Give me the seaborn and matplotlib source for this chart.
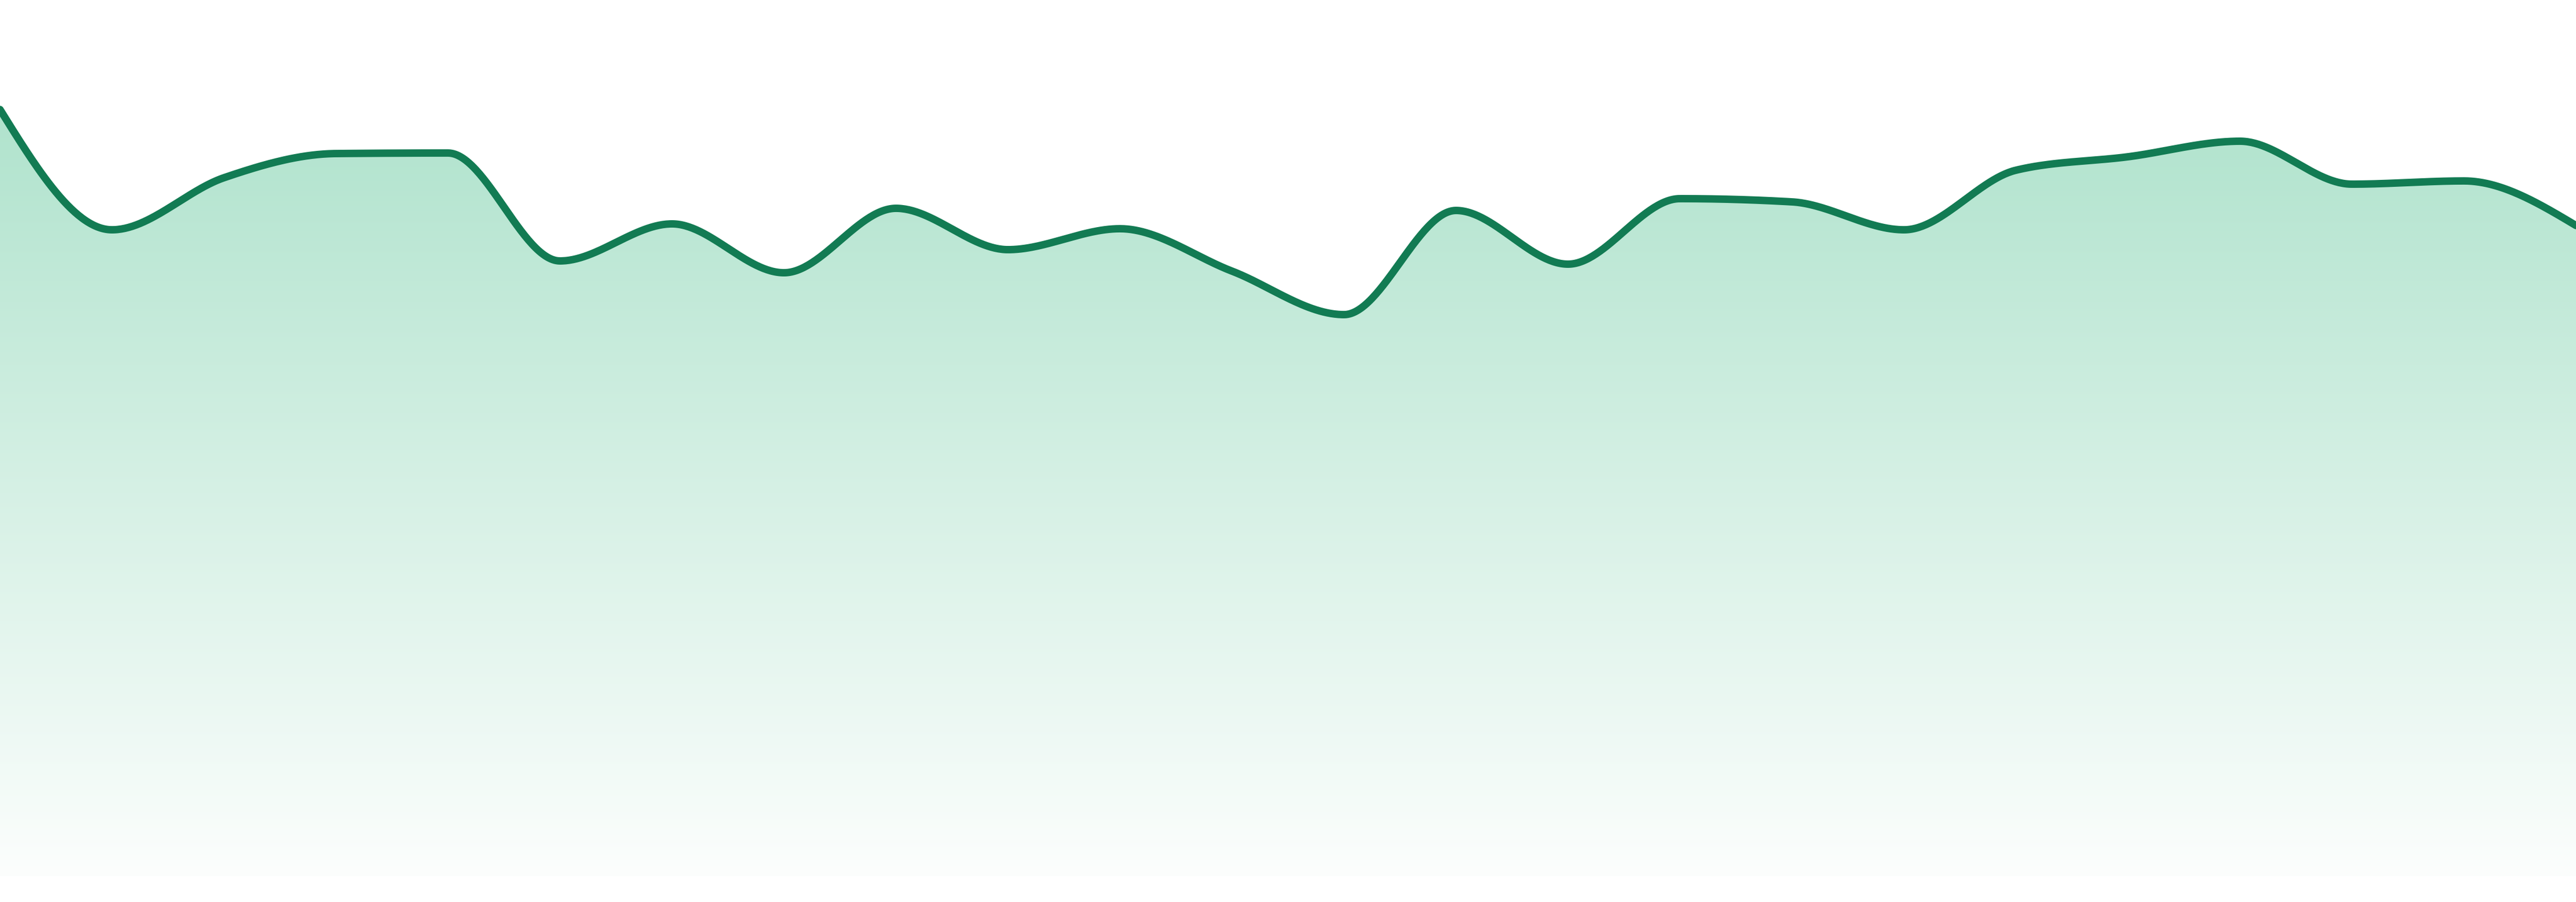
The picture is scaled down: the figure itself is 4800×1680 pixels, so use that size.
import numpy as np
import pandas as pd
import matplotlib
matplotlib.use("Agg")
import matplotlib.pyplot as plt
import seaborn as sns
from matplotlib.colors import to_rgb

# ---- data ----
points = list(range(24))
values = [142.8, 120.4, 130.1, 134.6, 134.7, 114.6, 121.5, 112.4,
          124.4, 116.7, 120.6, 112.7, 104.6, 124.0, 114.0, 126.2,
          125.6, 120.4, 131.5, 134.0, 136.9, 128.9, 129.5, 121.2]

# ---- style ----
LINE_COLOR = "#127b53"
FILL_TOP = "#b0e3cd"
FILL_BOTTOM = "#fcfefd"
W_PX, H_PX, DPI = 4800, 1680, 100
Y_MIN, Y_MAX = -4.8, 163.2


def monotone_x(x, y, n_per_seg=60):
    """d3.curveMonotoneX (Steffen) interpolation of the data."""
    x = np.asarray(x, float)
    y = np.asarray(y, float)
    n = len(x)
    h = np.diff(x)
    s = np.diff(y) / h
    t = np.zeros(n)
    for i in range(1, n - 1):
        s0, s1 = s[i - 1], s[i]
        p = (s0 * h[i] + s1 * h[i - 1]) / (h[i - 1] + h[i])
        t[i] = (np.sign(s0) + np.sign(s1)) * min(abs(s0), abs(s1), 0.5 * abs(p))
    t[0] = (3 * s[0] - t[1]) / 2
    t[-1] = (3 * s[-1] - t[-2]) / 2
    xs, ys = [], []
    for i in range(n - 1):
        u = np.linspace(0, 1, n_per_seg, endpoint=(i == n - 2))
        h00 = 2 * u**3 - 3 * u**2 + 1
        h10 = u**3 - 2 * u**2 + u
        h01 = -2 * u**3 + 3 * u**2
        h11 = u**3 - u**2
        xs.append(x[i] + u * h[i])
        ys.append(h00 * y[i] + h10 * h[i] * t[i] + h01 * y[i + 1] + h11 * h[i] * t[i + 1])
    return np.concatenate(xs), np.concatenate(ys)


xs, ys = monotone_x(points, values)
curve = pd.DataFrame({"x": xs, "y": ys})

sns.set_theme(style="white")
fig = plt.figure(figsize=(W_PX / DPI, H_PX / DPI), dpi=DPI)
ax = fig.add_axes([0, 0, 1, 1])
ax.set_xlim(points[0], points[-1])
ax.set_ylim(Y_MIN, Y_MAX)
ax.axis("off")
fig.patch.set_facecolor("white")

# gradient fill under the curve
top = np.array(to_rgb(FILL_TOP))
bot = np.array(to_rgb(FILL_BOTTOM))
g_top = max(values)
frac = np.linspace(0, 1, 600)[:, None]
grad = (top[None, :] * (1 - frac) + bot[None, :] * frac)[:, None, :]
img = ax.imshow(grad, extent=[points[0], points[-1], 0, g_top], aspect="auto",
                origin="upper", interpolation="bilinear", zorder=1)
poly = ax.fill_between(curve["x"], 0, curve["y"], color="none", lw=0)
img.set_clip_path(poly.get_paths()[0], transform=ax.transData)

sns.lineplot(data=curve, x="x", y="y", ax=ax, color=LINE_COLOR, linewidth=10,
             sort=False, estimator=None, zorder=3)
ax.lines[-1].set_solid_capstyle("round")
ax.lines[-1].set_solid_joinstyle("round")
ax.set_xlabel("")
ax.set_ylabel("")

fig.savefig("out.png", dpi=DPI, facecolor="white")
